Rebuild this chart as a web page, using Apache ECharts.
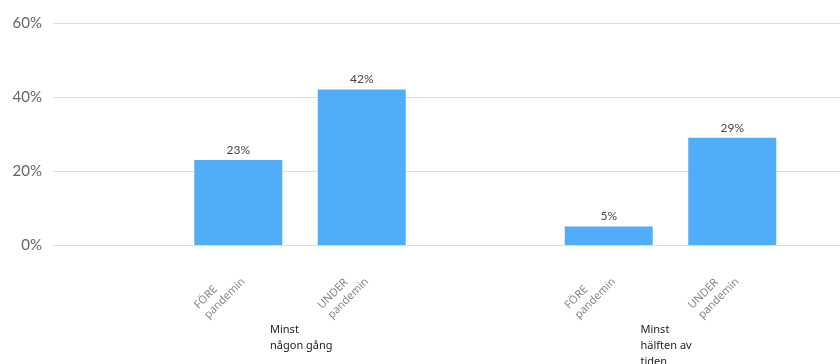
<!DOCTYPE html>
<html>
<head>
<meta charset="utf-8">
<script src="https://cdn.jsdelivr.net/npm/echarts@6/dist/echarts.min.js"></script>
<style>
    html, body { margin: 0; padding: 0; background: #fff; }
    #chart { width: 840px; height: 364px; }
</style>
</head>
<body>
<div id="chart"></div>
<script>
const categories = ['', 'FÖRE\npandemin', 'UNDER\npandemin', '', 'FÖRE\npandemin', 'UNDER\npandemin'];
const values = [null, 23, 42, null, 5, 29];
const groupNames = ['Minst\nnågon gång', 'Minst\nhälften av\ntiden'];
const groupPairs = [[1, 2], [4, 5]];
const yTicks = [0, 20, 40, 60];

let chartDom = document.getElementById('chart');
let myChart = echarts.init(chartDom);

const gridTop = 23;
const gridBottom = 119;
const gridLeft = 53;

const option = {
    animation: false,
    grid: [
        {left: gridLeft, right: 0, top: gridTop, bottom: gridBottom},
        {left: gridLeft, width: 741, top: gridTop, bottom: gridBottom},
    ],
    xAxis: [
        {gridIndex: 0, type: 'value', show: false, min: 0, max: 1},
        {
            gridIndex: 1,
            type: 'category',
            data: categories,
            axisLine: {show: false},
            axisTick: {show: false},
            axisLabel: {
                interval: 0,
                rotate: 45,
                margin: 30,
                color: '#808080',
                fontFamily: 'Open Sans',
                fontSize: 11,
                lineHeight: 14,
                formatter: v => v ? v.split('\n').map(s => '{a|' + s + '}').join('\n') : '',
                rich: {a: {align: 'left', color: '#808080', fontFamily: 'Open Sans', fontSize: 11, lineHeight: 14}},
            },
        },
    ],
    yAxis: [
        {
            gridIndex: 0,
            type: 'value',
            min: yTicks[0],
            max: yTicks[yTicks.length - 1],
            interval: 20,
            axisLine: {show: false},
            axisTick: {show: false},
            axisLabel: {
                margin: 11,
                color: '#666',
                fontFamily: 'Lato',
                fontSize: 15,
                formatter: '{value}%',
            },
            splitLine: {lineStyle: {color: '#dcdcdc', width: 1}},
        },
        {
            gridIndex: 1,
            type: 'value',
            min: yTicks[0],
            max: yTicks[yTicks.length - 1],
            show: false,
            splitLine: {show: false},
        },
    ],
    series: [
        {
            type: 'bar',
            xAxisIndex: 1,
            yAxisIndex: 1,
            data: values,
            barWidth: 88,
            itemStyle: {color: '#50adf9'},
            label: {
                show: true,
                position: 'top',
                distance: 4,
                color: '#444',
                fontFamily: 'Lato',
                fontSize: 12,
                formatter: p => p.value + '%',
            },
        },
    ],
};

myChart.setOption(option);

const graphics = groupPairs.map((pair, i) => {
    const x0 = myChart.convertToPixel({xAxisIndex: 1}, pair[0]);
    const x1 = myChart.convertToPixel({xAxisIndex: 1}, pair[1]);
    return {
        type: 'text',
        left: (x0 + x1) / 2 - 30,
        top: 322,
        style: {
            text: groupNames[i],
            fill: '#222',
            font: '11px "Noto Sans"',
            lineHeight: 16,
            align: 'left',
        },
    };
});
myChart.setOption({graphic: graphics});
</script>
</body>
</html>
